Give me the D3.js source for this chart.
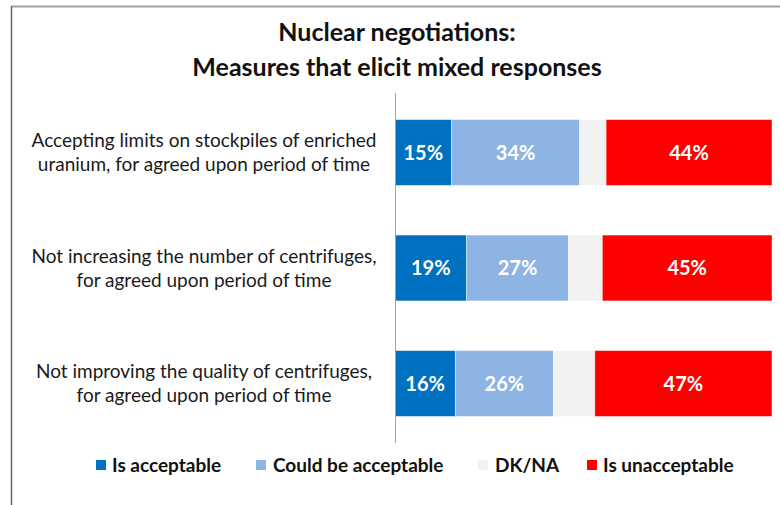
<!DOCTYPE html>
<html>
<head>
<meta charset="utf-8">
<script src="https://cdn.jsdelivr.net/npm/d3@7"></script>
<style>
  body { margin: 0; background: #fff; }
  svg { display: block; font-family: Lato, "Open Sans", sans-serif; }
</style>
</head>
<body>
<div class="chart"></div>
<script>
// categories (wrapped the way the original shows them)
const categories = [
  "Accepting limits on stockpiles of enriched uranium, for agreed upon period of time",
  "Not increasing the number of centrifuges, for agreed upon period of time",
  "Not improving the quality of centrifuges, for agreed upon period of time"
];
const labelLines = [
  ["Accepting limits on stockpiles of enriched", "uranium, for agreed upon period of time"],
  ["Not increasing the number of centrifuges,", "for agreed upon period of time"],
  ["Not improving the quality of centrifuges,", "for agreed upon period of time"]
];

const seriesNames = ["Is acceptable", "Could be acceptable", "DK/NA", "Is unacceptable"];
const acceptable = [15, 19, 16];
const couldBe = [34, 27, 26];
const dkna = [7, 9, 11];
const unacceptable = [44, 45, 47];
const colors = ["#0070c0", "#8eb4e3", "#f2f2f2", "#ff0000"];

const width = 780, height = 505;

let svg = d3.select(".chart").append("svg")
  .attr("width", width)
  .attr("height", height);

// frame lines like the pasted screenshot
svg.append("line")
  .attr("x1", 11).attr("x2", width).attr("y1", 6.5).attr("y2", 6.5)
  .attr("stroke", "#a0a0a0").attr("stroke-width", 2);
svg.append("line")
  .attr("x1", 11.5).attr("x2", 11.5).attr("y1", 6).attr("y2", height)
  .attr("stroke", "#666").attr("stroke-width", 1.5);

// title
const title = svg.append("text")
  .attr("text-anchor", "middle")
  .attr("font-weight", "bold")
  .attr("font-size", 25)
  .attr("fill", "#111");
title.append("tspan").attr("x", 397).attr("y", 41).text("Nuclear negotiations:");
title.append("tspan").attr("x", 397).attr("y", 76).text("Measures that elicit mixed responses");

const rows = categories.map((c, i) => ({
  category: c,
  "Is acceptable": acceptable[i],
  "Could be acceptable": couldBe[i],
  "DK/NA": dkna[i],
  "Is unacceptable": unacceptable[i]
}));

const stacked = d3.stack().keys(seriesNames)(rows);

let x = d3.scaleLinear()
  .domain([0, 100])
  .range([395, 772]);

let y = d3.scaleBand()
  .domain(categories)
  .range([93, 443])
  .paddingInner(0.43)
  .paddingOuter(0.23);

const layers = svg.selectAll(".layer")
  .data(stacked)
  .join("g")
  .attr("class", "layer")
  .attr("fill", (d, i) => colors[i]);

layers.selectAll("rect")
  .data(d => d.map(v => ({ key: d.key, v })))
  .join("rect")
  .attr("x", d => x(d.v[0]))
  .attr("y", d => y(d.v.data.category))
  .attr("width", d => x(d.v[1]) - x(d.v[0]))
  .attr("height", y.bandwidth())
  .attr("stroke", "#fff")
  .attr("stroke-opacity", 0.5)
  .attr("stroke-width", 0.8);

layers.filter(d => d.key !== "DK/NA")
  .selectAll("text")
  .data(d => d.map(v => ({ key: d.key, v })))
  .join("text")
  .attr("x", d => (x(d.v[0]) + x(d.v[1])) / 2)
  .attr("y", d => y(d.v.data.category) + y.bandwidth() / 2)
  .attr("dy", "0.36em")
  .attr("text-anchor", "middle")
  .attr("fill", "#fff")
  .attr("font-weight", "bold")
  .attr("font-size", 20)
  .text(d => (d.v[1] - d.v[0]) + "%");

// vertical axis line
svg.append("line")
  .attr("x1", x(0) + 0.5).attr("x2", x(0) + 0.5)
  .attr("y1", y.range()[0]).attr("y2", y.range()[1])
  .attr("stroke", "#a6a6a6").attr("stroke-width", 1);

// category labels
const cats = svg.selectAll(".cat")
  .data(categories)
  .join("text")
  .attr("class", "cat")
  .attr("text-anchor", "middle")
  .attr("font-size", 19)
  .attr("fill", "#1a1a1a");

cats.selectAll("tspan")
  .data((d, i) => labelLines[i].map((t, j) => ({ t, j, c: d })))
  .join("tspan")
  .attr("x", 204)
  .attr("y", d => y(d.c) + y.bandwidth() / 2 + (d.j === 0 ? -12 : 12))
  .attr("dy", "0.35em")
  .text(d => d.t);

// legend
const legendX = [96, 256, 478, 587];
const legend = svg.selectAll(".legend")
  .data(seriesNames)
  .join("g")
  .attr("class", "legend")
  .attr("transform", (d, i) => "translate(" + legendX[i] + ",460)");

legend.append("rect")
  .attr("width", 10).attr("height", 10)
  .attr("fill", (d, i) => colors[i]);

legend.append("text")
  .attr("x", (d, i) => i === 1 ? 17 : i === 2 ? 17 : 16)
  .attr("y", 5)
  .attr("dy", "0.36em")
  .attr("font-size", 19)
  .attr("font-weight", "bold")
  .attr("fill", "#111")
  .text(d => d);
</script>
</body>
</html>
